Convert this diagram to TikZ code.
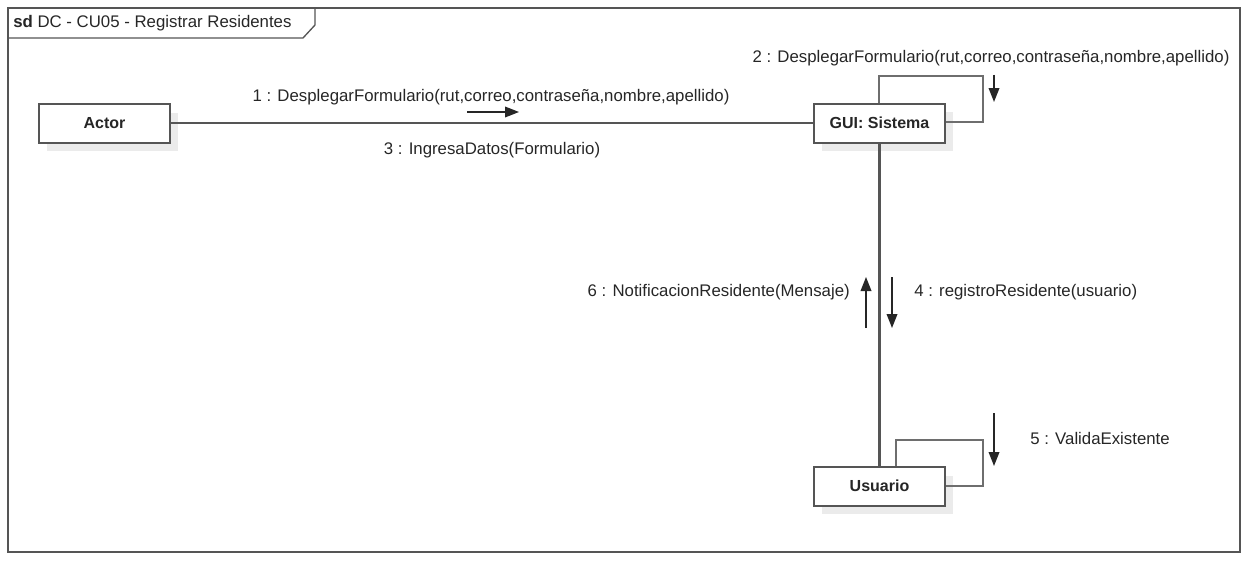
\documentclass[tikz,border=0pt]{standalone}
\usepackage{fontspec}
\setmainfont{Liberation Sans}
\usetikzlibrary{arrows.meta}
\definecolor{lin}{HTML}{555555}
\definecolor{shd}{HTML}{EBEBEB}
\tikzset{
  obj/.style={draw=lin, line width=1.5pt, fill=white, minimum width=98.25pt, minimum height=29.25pt, inner sep=0pt, font=\fontsize{12pt}{13pt}\selectfont\bfseries, text=black!85},
  link/.style={draw=lin, line width=1.6pt},
  loop/.style={draw=lin!85, line width=1.1pt},
  msg/.style={-{Triangle[length=10.5pt,width=8pt]}, line width=1.1pt, draw=black!85, fill=black},
  lbl/.style={font=\fontsize{12.6pt}{14pt}\selectfont, text=black!85, inner sep=0pt}
}
\begin{document}
\begin{tikzpicture}[x=0.75pt,y=-0.75pt]
\useasboundingbox (0,0) rectangle (1248,560);
% frame
\draw[draw=lin, line width=1pt] (8,8) rectangle (1240,552);
\draw[draw=lin, line width=1pt] (8,38) -- (303,38) -- (315,25) -- (315,8);
\node[lbl, anchor=west] (title) at (13,23) {\textbf{sd} DC - CU05 - Registrar Residentes};
% shadows
\fill[shd] (47,113) rectangle (178,151);
\fill[shd] (822,112) rectangle (953,151);
\fill[shd] (822,476) rectangle (953,514);
% loops behind
\draw[loop] (879,123) -- (879,76) -- (983,76) -- (983,122) -- (945,122);
\draw[loop] (896,486) -- (896,440) -- (983,440) -- (983,486) -- (945,486);
% objects
\node[obj] (actor) at (104.5,123) {Actor};
\node[obj] (gui) at (879.5,123) {GUI: Sistema};
\node[obj] (usr) at (879.5,486) {Usuario};
% links
\draw[link] (actor.east) -- (gui.west);
\draw[link] (gui.south) -- (usr.north);
% messages
\coordinate (m1a) at (467,112); \coordinate (m1b) at (519,112);
\draw[msg] (m1a) -- (m1b);
\coordinate (m2a) at (994,75); \coordinate (m2b) at (994,102);
\draw[msg] (m2a) -- (m2b);
\coordinate (m6a) at (866,328); \coordinate (m6b) at (866,277);
\draw[msg] (m6a) -- (m6b);
\coordinate (m4a) at (892,277); \coordinate (m4b) at (892,328);
\draw[msg] (m4a) -- (m4b);
\coordinate (m5a) at (994,413); \coordinate (m5b) at (994,466);
\draw[msg] (m5a) -- (m5b);
% labels
\node[lbl] (l1) at (491,97) {1 : DesplegarFormulario(rut,correo,contraseña,nombre,apellido)};
\node[lbl] (l2) at (991,58) {2 : DesplegarFormulario(rut,correo,contraseña,nombre,apellido)};
\node[lbl] (l3) at (492,150) {3 : IngresaDatos(Formulario)};
\node[lbl, anchor=east] (l6) at (850,292) {6 : NotificacionResidente(Mensaje)};
\node[lbl, anchor=west] (l4) at (914,292) {4 : registroResidente(usuario)};
\node[lbl, anchor=west] (l5) at (1030,438) {5 : ValidaExistente};
\end{tikzpicture}
\end{document}
